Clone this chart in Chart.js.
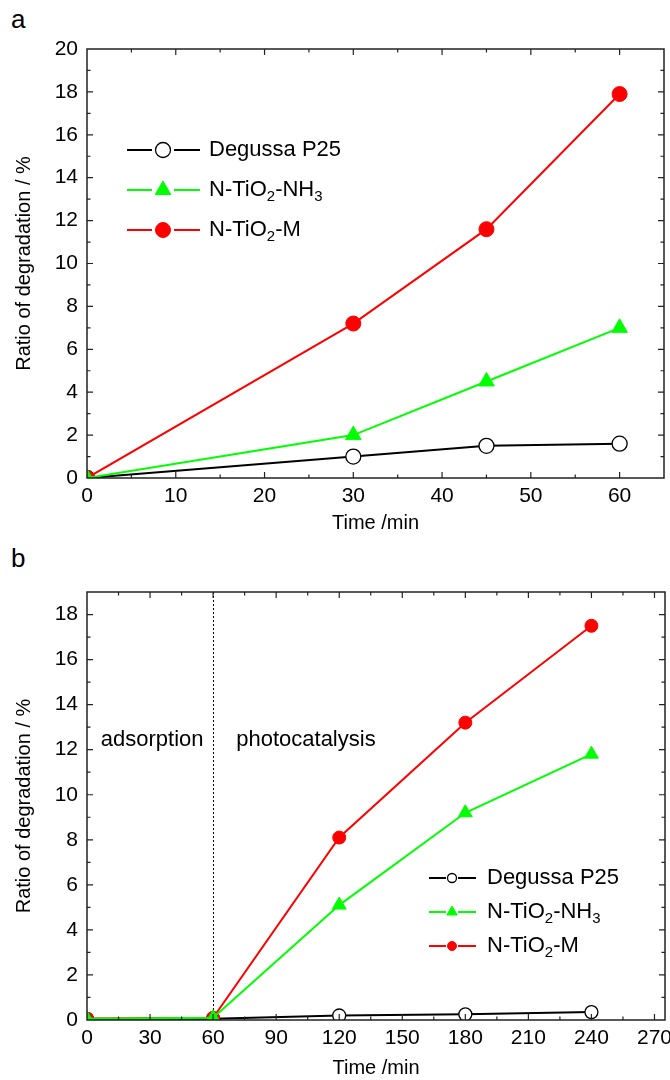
<!DOCTYPE html>
<html>
<head>
<meta charset="utf-8">
<title>Ratio of degradation</title>
<script src="https://cdn.jsdelivr.net/npm/chart.js@4.4.1/dist/chart.umd.min.js"></script>
<style>
  html, body { margin: 0; padding: 0; background: #fff; }
  .panel { position: relative; width: 670px; height: 540px; }
  .panel canvas { position: absolute; left: 0; top: 0; }
  .tag { position: absolute; left: 11px; font: 26px "Liberation Sans", Arial, sans-serif; color: #000; }
</style>
</head>
<body>
<div class="panel">
  <div class="tag" style="top:4px">a</div>
  <canvas id="chartA" width="670" height="540"></canvas>
</div>
<div class="panel">
  <div class="tag" style="top:3px">b</div>
  <canvas id="chartB" width="670" height="540"></canvas>
</div>
<script>
const FONT = '"Liberation Sans", Arial, sans-serif';

// panel a: first hour under light
const timeA = [0, 30, 45, 60];
const p25A = [0, 1.0, 1.5, 1.6];
const nh3A = [0, 2.0, 4.5, 7.0];
const mA = [0, 7.2, 11.6, 17.9];
const xTicksA = [0, 10, 20, 30, 40, 50, 60];
const yTicksA = [0, 2, 4, 6, 8, 10, 12, 14, 16, 18, 20];

// panel b: adsorption in the dark, then photocatalysis
const timeB = [0, 60, 120, 180, 240];
const p25B = [0.05, 0.05, 0.2, 0.25, 0.35];
const nh3B = [0.05, 0.1, 5.1, 9.2, 11.8];
const mB = [0.05, 0.1, 8.1, 13.2, 17.5];
const xTicksB = [0, 30, 60, 90, 120, 150, 180, 210, 240, 270];
const yTicksB = [0, 2, 4, 6, 8, 10, 12, 14, 16, 18];
const lightOnTime = 60;

// "_2" means subscript 2
const seriesNames = ['Degussa P25', 'N-TiO_2-NH_3', 'N-TiO_2-M'];

const pts = (xs, ys) => xs.map((x, i) => ({ x: x, y: ys[i] }));

function makeDatasets(xs, p25, nh3, m, r) {
  return [
    { label: seriesNames[0], data: pts(xs, p25), borderColor: '#000', backgroundColor: '#fff',
      pointStyle: 'circle', pointRadius: r, pointBorderWidth: 1.3, order: 2 },
    { label: seriesNames[1], data: pts(xs, nh3), borderColor: '#00ff00', backgroundColor: '#00ff00',
      pointStyle: 'triangle', pointRadius: r + 1.5, pointBorderWidth: 1, order: 0 },
    { label: seriesNames[2], data: pts(xs, m), borderColor: '#ff0000', backgroundColor: '#ff0000',
      pointStyle: 'circle', pointRadius: r, pointBorderWidth: 1, order: 1 }
  ].map(d => Object.assign(d, { borderWidth: 2, tension: 0, pointHoverRadius: d.pointRadius }));
}

// text with "_n" subscripts
function drawRich(ctx, text, x, y, size) {
  const parts = text.split(/_(\d)/);
  ctx.textAlign = 'left';
  ctx.textBaseline = 'middle';
  parts.forEach((p, i) => {
    const sub = i % 2 === 1;
    const s = sub ? size * 0.68 : size;
    ctx.font = s + 'px ' + FONT;
    ctx.fillText(p, x, sub ? y + size * 0.3 : y);
    x += ctx.measureText(p).width;
  });
}

// box with inward major and minor ticks on all four sides
const framePlugin = {
  id: 'frame',
  afterDatasetsDraw(chart) {
    const { ctx, chartArea: a, scales } = chart;
    ctx.save();
    ctx.strokeStyle = '#222';
    ctx.lineWidth = 1.5;
    ctx.strokeRect(a.left, a.top, a.right - a.left, a.bottom - a.top);
    ctx.lineWidth = 1.2;
    const marks = scale => {
      const major = scale.ticks.map(t => t.value);
      const step = major[1] - major[0];
      const minor = [];
      for (let v = major[0] + step / 2; v <= scale.max; v += step) minor.push(v);
      return major.map(v => [v, 6]).concat(minor.map(v => [v, 3.5]));
    };
    ctx.beginPath();
    marks(scales.x).forEach(([v, len]) => {
      const px = scales.x.getPixelForValue(v);
      if (px <= a.left + 1 || px >= a.right - 1) return;
      ctx.moveTo(px, a.bottom); ctx.lineTo(px, a.bottom - len);
      ctx.moveTo(px, a.top); ctx.lineTo(px, a.top + len);
    });
    marks(scales.y).forEach(([v, len]) => {
      const py = scales.y.getPixelForValue(v);
      if (py <= a.top + 1 || py >= a.bottom - 1) return;
      ctx.moveTo(a.left, py); ctx.lineTo(a.left + len, py);
      ctx.moveTo(a.right, py); ctx.lineTo(a.right - len, py);
    });
    ctx.stroke();
    ctx.restore();
  }
};

// legend drawn by hand so the formulas get real subscripts
const richLegend = {
  id: 'richLegend',
  afterDraw(chart, args, opts) {
    const ctx = chart.ctx;
    ctx.save();
    chart.data.datasets.forEach((ds, i) => {
      const y = opts.y + i * opts.gap;
      ctx.strokeStyle = ds.borderColor;
      ctx.lineWidth = 2;
      ctx.beginPath();
      ctx.moveTo(opts.x0, y); ctx.lineTo(opts.mark - opts.clear, y);
      ctx.moveTo(opts.mark + opts.clear, y); ctx.lineTo(opts.x1, y);
      ctx.stroke();
      ctx.fillStyle = ds.backgroundColor;
      ctx.lineWidth = ds.pointBorderWidth;
      const r = ds.pointStyle === 'triangle' ? opts.radius + 1.5 : opts.radius;
      Chart.helpers.drawPoint(ctx, { pointStyle: ds.pointStyle, radius: r, rotation: 0, borderWidth: ds.pointBorderWidth }, opts.mark, y);
      ctx.fillStyle = '#000';
      drawRich(ctx, ds.label, opts.text, y, opts.size);
    });
    ctx.restore();
  }
};

// dark/light divider and phase labels
const phasePlugin = {
  id: 'phases',
  beforeDatasetsDraw(chart, args, opts) {
    const { ctx, chartArea: a, scales } = chart;
    const px = Math.round(scales.x.getPixelForValue(opts.at)) + 0.5;
    ctx.save();
    ctx.strokeStyle = '#000';
    ctx.lineWidth = 1;
    ctx.setLineDash([2, 2]);
    ctx.beginPath();
    ctx.moveTo(px, a.top); ctx.lineTo(px, a.bottom);
    ctx.stroke();
    ctx.setLineDash([]);
    ctx.fillStyle = '#000';
    ctx.font = '22px ' + FONT;
    ctx.textBaseline = 'middle';
    opts.labels.forEach(l => {
      ctx.textAlign = l.align;
      ctx.fillText(l.text, scales.x.getPixelForValue(l.x), scales.y.getPixelForValue(l.y));
    });
    ctx.restore();
  }
};

function axes(xTicks, xMax, yTicks, yMax, xTitlePad, xHeight) {
  const tickFont = { family: FONT, size: 21 };
  const titleFont = { family: FONT, size: 20 };
  return {
    x: {
      type: 'linear', min: 0, max: xMax,
      afterBuildTicks: s => { s.ticks = xTicks.map(v => ({ value: v })); },
      // fixed height, and let the end labels hang past the box
      afterFit: s => { s.height = xHeight; s.paddingLeft = 0; s.paddingRight = 0; },
      grid: { display: false, drawTicks: false },
      border: { display: false },
      ticks: { color: '#000', font: tickFont, padding: 6, maxRotation: 0, autoSkip: false },
      title: { display: true, text: 'Time /min', color: '#000', font: titleFont, padding: { top: 0, bottom: xTitlePad } }
    },
    y: {
      type: 'linear', min: 0, max: yMax,
      afterBuildTicks: s => { s.ticks = yTicks.map(v => ({ value: v })); },
      afterFit: s => { s.width = 87; },
      grid: { display: false, drawTicks: false },
      border: { display: false },
      ticks: { color: '#000', font: tickFont, padding: 9, autoSkip: false },
      title: { display: true, text: 'Ratio of degradation / %', color: '#000', font: titleFont, padding: { top: 12, bottom: 0 } }
    }
  };
}

const common = {
  responsive: false,
  animation: false,
  events: [],
  plugins: { legend: { display: false }, tooltip: { enabled: false } }
};

new Chart(document.getElementById('chartA'), {
  type: 'line',
  data: { datasets: makeDatasets(timeA, p25A, nh3A, mA, 7.5) },
  options: Object.assign({}, common, {
    layout: { autoPadding: false, padding: { top: 49, right: 6, left: 0, bottom: 0 } },
    scales: axes(xTicksA, 65, yTicksA, 20, 5, 62),
    plugins: Object.assign({}, common.plugins, {
      richLegend: { x0: 127, x1: 200, mark: 163, clear: 11, text: 209, y: 150, gap: 40, radius: 7.5, size: 22 }
    })
  }),
  plugins: [framePlugin, richLegend]
});

new Chart(document.getElementById('chartB'), {
  type: 'line',
  data: { datasets: makeDatasets(timeB, p25B, nh3B, mB, 6.5) },
  options: Object.assign({}, common, {
    layout: { autoPadding: false, padding: { top: 52, right: 5, left: 0, bottom: 0 } },
    scales: axes(xTicksB, 275, yTicksB, 19, 0, 60),
    plugins: Object.assign({}, common.plugins, {
      richLegend: { x0: 429, x1: 476, mark: 452, clear: 6, text: 487, y: 338, gap: 34, radius: 4.5, size: 22 },
      phases: {
        at: lightOnTime,
        labels: [
          { text: 'adsorption', x: 31, y: 12.45, align: 'center' },
          { text: 'photocatalysis', x: 71, y: 12.45, align: 'left' }
        ]
      }
    })
  }),
  plugins: [phasePlugin, framePlugin, richLegend]
});
</script>
</body>
</html>
